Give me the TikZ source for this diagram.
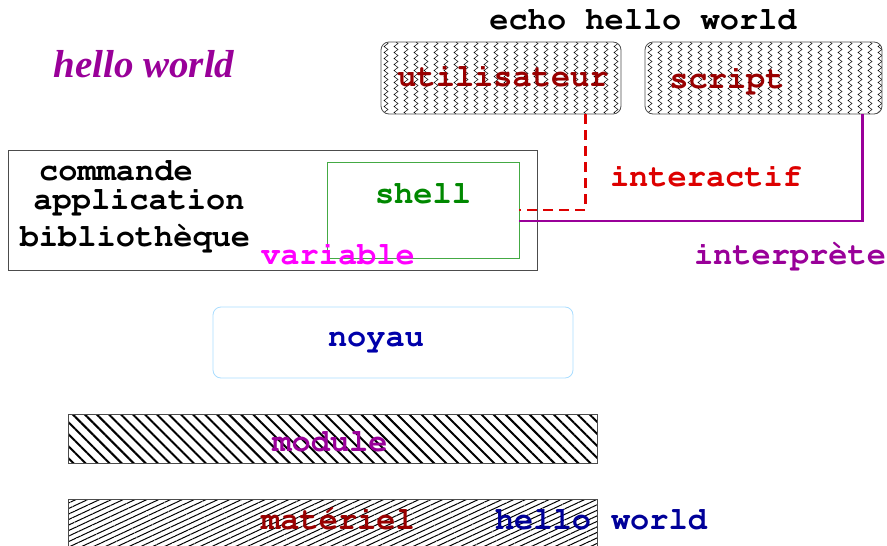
\documentclass[tikz,border=0pt]{standalone}
\usepackage[T1]{fontenc}
\usepackage{fontspec}
\newfontfamily\timesfont{Liberation Serif}
\usetikzlibrary{
    calc,
    positioning,
    decorations.pathmorphing,
    patterns.meta
}
\definecolor{figdarkred}{HTML}{990000}
\definecolor{figred}{HTML}{DD0000}
\definecolor{figpurple}{HTML}{990099}
\definecolor{figgreen}{HTML}{008800}
\definecolor{figgreenbox}{HTML}{44AA44}
\definecolor{figmagenta}{HTML}{FF00FF}
\definecolor{figblue}{HTML}{0000AA}
\definecolor{fignavy}{HTML}{000099}
\definecolor{figsky}{HTML}{AADDFF}
\newcommand{\courierbf}{\fontencoding{T1}\fontfamily{pcr}\fontseries{b}\fontshape{n}\fontsize{32}{32}\selectfont}
\tikzset{
    lbl/.style={font=\courierbf, inner sep=0pt, anchor=base},
    zz/.style={draw=black, line width=0.5pt, decorate,
        decoration={zigzag, segment length=6pt, amplitude=2pt}},
    wavybox/.style={draw=black!70, line width=0.8pt, rounded corners=8pt,
        minimum width=240pt, minimum height=72pt, inner sep=0pt,
        path picture={
            \foreach \i in {0,...,23} {
                \draw[zz, sharp corners] ([xshift=\i*10pt+5pt]path picture bounding box.north west)
                    -- ([xshift=\i*10pt+5pt]path picture bounding box.south west);
            }
        }},
    layerbox/.style={draw=black!70, line width=0.8pt, minimum width=529pt, inner sep=0pt}
}
\begin{document}
\begin{tikzpicture}[x=1pt, y=-1pt]
    \useasboundingbox (0, 0) rectangle (887, 546);
    \clip (0, 0) rectangle (887, 546);
    % top: who talks to the shell
    \node[lbl] (echo) at (643, 29) {echo hello world};
    \node[lbl, font=\timesfont\bfseries\itshape\fontsize{39}{39}\selectfont, text=figpurple]
        (hello) at (144, 77) {hello world};
    \node[wavybox] (util) at (501, 78) {};
    \node[wavybox, minimum width=237pt] (script) at (763.5, 78) {};
    \node[lbl, text=figdarkred] (utillbl) at (503, 86) {utilisateur};
    \node[lbl, text=figdarkred] (scriptlbl) at (727, 88) {script};
    % user space
    \node[draw=black!70, line width=0.8pt, minimum width=529pt, minimum height=120pt]
        (userspace) at (272.5, 210) {};
    \node[draw=figgreenbox, line width=0.8pt, minimum width=192pt, minimum height=96pt]
        (shell) at (423, 210) {};
    \node[lbl, text=figgreen] (shelllbl) at (423, 203) {shell};
    \node[lbl] (cmd) at (116, 180) {commande};
    \node[lbl] (appli) at (139, 209) {application};
    \node[lbl] (biblio) at (135, 246) {bibliothèque};
    \node[lbl, text=figmagenta] (variable) at (338, 264) {variable};
    % links
    \draw[figred, line width=2.5pt, dash pattern=on 10pt off 6pt]
        ([xshift=-36pt]util.south east) |- (shell.east);
    \draw[figpurple, line width=2.5pt]
        ([xshift=-20pt]script.south east) |- ([yshift=-11pt]shell.east);
    \node[lbl, text=figred] (interactif) at (706, 186) {interactif};
    \node[lbl, text=figpurple] (interprete) at (790, 264) {interprète};
    % kernel and below
    \node[draw=figsky, line width=0.8pt, rounded corners=8pt,
        minimum width=360pt, minimum height=71pt] (noyau) at (393, 342.5) {};
    \node[lbl, text=figblue] (noyaulbl) at (376, 346) {noyau};
    \node[layerbox, minimum height=49pt,
        pattern={Lines[angle=-45, distance=8.5pt, line width=2pt]}]
        (module) at (332.5, 438.5) {};
    \node[lbl, text=figpurple] (modulelbl) at (330, 451) {module};
    \node[layerbox, minimum height=52pt,
        pattern={Lines[angle=25, distance=5pt, line width=1pt]}]
        (materiel) at (332.5, 525) {};
    \node[lbl, text=figdarkred] (materiellbl) at (338, 529) {matériel};
    \node[lbl, text=fignavy] (hellolbl) at (543, 529) {hello};
    \node[lbl, text=fignavy] (worldlbl) at (659, 529) {world};
\end{tikzpicture}
\end{document}
